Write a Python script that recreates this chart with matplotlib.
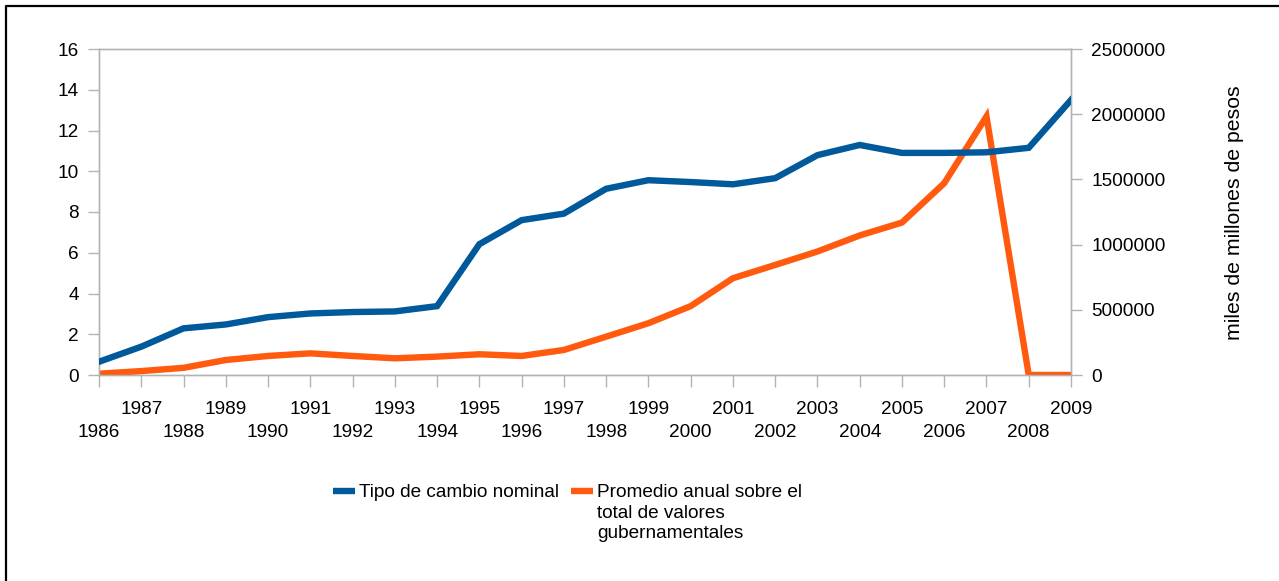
import numpy as np
import matplotlib.pyplot as plt
from matplotlib.lines import Line2D

plt.rcParams['font.family'] = ['Liberation Sans', 'DejaVu Sans']

# === Data ===
years = list(range(1986, 2010))
tipo_cambio = [0.65, 1.39, 2.29, 2.48, 2.84, 3.02, 3.09, 3.12, 3.38, 6.42, 7.60, 7.92,
               9.14, 9.56, 9.47, 9.36, 9.66, 10.79, 11.29, 10.90, 10.90, 10.93, 11.15, 13.50]
valores_gub = [10000, 30000, 55000, 115000, 146000, 166000, 146000, 128000, 141000,
               159000, 146000, 192000, 294000, 397000, 528000, 742000, 844000, 947000,
               1070000, 1169000, 1471000, 1983000, 0, 0]
left_ticks = [0, 2, 4, 6, 8, 10, 12, 14, 16]
right_ticks = [0, 500000, 1000000, 1500000, 2000000, 2500000]
# odd years on the first row, even years on the second one
year_labels = [str(y) if y % 2 else "\n" + str(y) for y in years]

BLUE = "#00599a"
ORANGE = "#ff5a0e"
GRAY = "#b3b3b3"
FS = 13.7
LW = 4.6

fig = plt.figure(figsize=(12.79, 5.81), dpi=100)
ax = fig.add_axes([99/1279, 1 - 375/581, 972/1279, 326/581])
ax2 = ax.twinx()

ax.plot(years, tipo_cambio, color=BLUE, linewidth=LW, solid_joinstyle='miter', zorder=3)
ax2.plot(years, valores_gub, color=ORANGE, linewidth=LW, solid_joinstyle='miter', zorder=3)

ax.set_xlim(1986, 2009)
ax.set_ylim(0, 16)
ax2.set_ylim(0, 2500000)
ax.set_xticks(years)
ax.set_xticklabels(year_labels, fontsize=FS, linespacing=1.48)
ax.set_yticks(left_ticks)
ax.set_yticklabels([str(t) for t in left_ticks], fontsize=FS)
ax2.set_yticks(right_ticks)
ax2.set_yticklabels([str(t) for t in right_ticks], fontsize=FS)

for a in (ax, ax2):
    for s in a.spines.values():
        s.set_color(GRAY)
        s.set_linewidth(1.0)
    a.tick_params(colors=GRAY, labelcolor="black", length=8, width=1.0, pad=6.5)
ax.tick_params(axis='x', length=8.5, pad=10)

# plot lines above the twin axes
ax.set_zorder(ax2.get_zorder() + 1)
ax.patch.set_visible(False)

fig.text(1235/1279, 1 - 213/581, "miles de millones de pesos", rotation=90,
         ha="center", va="center", fontsize=15.3)

# === Legend (handle aligned with first text line) ===
y0 = 1 - 491/581
ytop = 1 - 484/581
fig.add_artist(Line2D([333/1279, 355/1279], [y0, y0], color=BLUE, linewidth=LW,
                      solid_capstyle='butt'))
fig.text(359/1279, ytop, "Tipo de cambio nominal", ha="left", va="top", fontsize=FS)
fig.add_artist(Line2D([571/1279, 593/1279], [y0, y0], color=ORANGE, linewidth=LW,
                      solid_capstyle='butt'))
fig.text(597/1279, ytop,
         "Promedio anual sobre el\ntotal de valores\ngubernamentales",
         ha="left", va="top", fontsize=FS, linespacing=1.27)

# outer frame (left and top edges)
fig.add_artist(Line2D([6/1279, 6/1279, 1.0], [0.0, 1 - 6/581, 1 - 6/581],
                      color="black", linewidth=1.6))

plt.savefig("out.png", dpi=100)
